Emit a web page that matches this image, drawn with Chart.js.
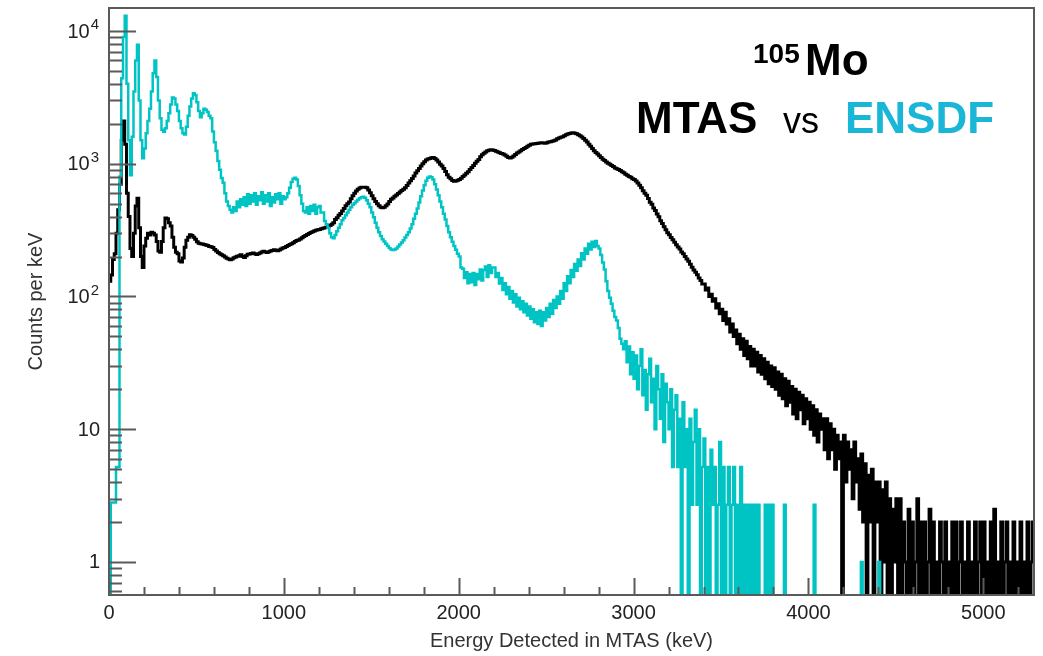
<!DOCTYPE html>
<html lang="en">
<head>
<meta charset="UTF-8">
<title>105Mo MTAS vs ENSDF</title>
<script src="https://cdn.jsdelivr.net/npm/chart.js"></script>
<style>
  body { margin: 0; background: #fff; }
  #wrap { width: 1043px; height: 656px; }
</style>
</head>
<body>
<div id="wrap"><canvas id="spectrum" width="1043" height="656"></canvas></div>
<script>
// histogram bins of 10 keV, first bin starts at 0 keV; one row = 200 keV
const binWidth = 10;

const mtasCounts = [
  130, 145, 190, 210, 300, 450, 700, 1500, 2100, 1400, 600, 400, 230, 200, 300, 480, 550, 330, 200, 165,           // 0
  240, 275, 300, 290, 305, 300, 290, 260, 220, 215, 260, 330, 390, 385, 360, 340, 280, 235, 215, 210,              // 200
  185, 182, 195, 235, 265, 280, 292, 288, 280, 270, 258, 252, 250, 248, 246, 244, 242, 238, 237, 234,              // 400
  226, 220, 214, 210, 206, 203, 198, 194, 192, 189, 192, 196, 198, 201, 203, 206, 200, 197, 203, 208,              // 600
  209, 211, 213, 210, 207, 210, 213, 216, 219, 216, 214, 217, 220, 222, 225, 223, 221, 224, 228, 232,              // 800
  234, 238, 242, 246, 250, 254, 259, 264, 266, 271, 277, 283, 288, 293, 298, 303, 308, 312, 315, 318,              // 1000
  320, 324, 326, 330, 333, 337, 342, 350, 360, 380, 392, 410, 422, 440, 460, 482, 500, 515, 545, 575,              // 1200
  600, 622, 643, 657, 664, 666, 666, 660, 635, 605, 575, 545, 520, 500, 482, 470, 466, 470, 482, 498,              // 1400
  520, 540, 553, 568, 582, 598, 612, 628, 642, 658, 685, 715, 745, 775, 810, 850, 885, 920, 960, 1000,             // 1600
  1035, 1065, 1085, 1095, 1108, 1112, 1095, 1065, 1030, 990, 960, 920, 875, 825, 790, 770, 748, 738, 740, 750,     // 1800
  762, 778, 800, 822, 848, 872, 905, 935, 970, 1010, 1045, 1075, 1130, 1170, 1200, 1225, 1250, 1265, 1275, 1268,   // 2000
  1258, 1242, 1228, 1212, 1196, 1182, 1162, 1138, 1115, 1105, 1118, 1142, 1175, 1205, 1228, 1252, 1278, 1302, 1328, 1352, // 2200
  1378, 1400, 1408, 1412, 1418, 1425, 1435, 1442, 1436, 1428, 1442, 1458, 1465, 1478, 1492, 1510, 1540, 1562, 1580, 1600, // 2400
  1625, 1652, 1672, 1690, 1705, 1715, 1700, 1682, 1655, 1625, 1590, 1550, 1505, 1455, 1405, 1355, 1305, 1255, 1215, 1185, // 2600
  1150, 1112, 1082, 1058, 1032, 1008, 990, 970, 952, 928, 915, 905, 890, 872, 855, 835, 820, 800, 790, 770,        // 2800
  760, 742, 715, 688, 658, 625, 600, 580, 548, 512, 495, 465, 445, 418, 398, 372, 355, 335, 318, 302,              // 3000
  292, 278, 268, 256, 245, 236, 228, 216, 210, 200, 192, 184, 175, 166, 158, 152, 146, 138, 132, 124,              // 3200
  124, 112, 116, 100, 104, 92, 96, 82, 88, 74, 80, 66, 76, 62, 68, 54, 62, 50, 56, 44,                             // 3400
  52, 40, 48, 36, 46, 34, 42, 30, 40, 30, 38, 27, 36, 26, 34, 24, 32, 22, 30, 21,                                  // 3600
  29, 20, 27, 18, 26, 17, 24, 15, 23, 16, 21, 13, 20, 12, 19, 14, 18, 11, 17, 12,                                  // 3800
  16, 10, 15, 9, 14, 8, 13, 10, 12, 7, 12, 6, 11, 7, 10, 5, 9, 6, 8, 0,                                            // 4000
  9, 4, 8, 5, 7, 3, 8, 4, 6, 2.5, 6.5, 2, 5.5, 0, 4.5, 2, 5, 0, 4, 2,                                              // 4200
  4, 0, 3.5, 1, 4, 0, 3, 0, 2.5, 1, 3, 0, 3, 0, 2, 1, 0, 2.5, 0, 2,                                                // 4400
  0, 1, 3, 0, 2, 0, 2, 0, 1, 2.5, 0, 2, 0, 1, 0, 2, 1, 0, 2, 0,                                                    // 4600
  1, 0, 2, 0, 2, 0, 1, 2, 0, 1, 0, 2, 0, 1, 0, 2, 0, 1, 2, 0,                                                      // 4800
  2, 0, 1, 0, 2, 0, 2.5, 0, 1, 0, 2, 0, 1, 2, 0, 1, 0, 2, 0, 1,                                                    // 5000
  0, 2, 0, 1, 0, 2, 0, 1, 2, 0                                                                                     // 5200
];

// ENSDF-based simulated spectrum, counts per keV
const ensdfCounts = [
  0, 2.8, 2.8, 2.8, 5.2, 5.2, 800, 4400, 9000, 13000, 4000, 1500, 820, 1600, 3500, 6000, 7870, 3000, 1500, 1100,   // 0
  1300, 1700, 2100, 2600, 3500, 4800, 6000, 4500, 3000, 2200, 1800, 1740, 1850, 2100, 2400, 2800, 3150, 3100, 2800, 2500, // 200
  2100, 1850, 1700, 1660, 1900, 2300, 2700, 3100, 3400, 3300, 2900, 2500, 2240, 2400, 2600, 2550, 2450, 2300, 2200, 1750, // 400
  1450, 1250, 1050, 900, 780, 720, 600, 520, 480, 450, 430, 470, 440, 520, 470, 540, 490, 560, 480, 590,          // 600
  500, 580, 520, 600, 490, 570, 530, 610, 500, 580, 520, 600, 480, 560, 510, 590, 540, 600, 500, 570,              // 800
  540, 560, 600, 660, 730, 770, 785, 760, 680, 580, 500, 440, 430, 470, 420, 480, 440, 490, 420, 470,              // 1000
  480, 430, 430, 370, 350, 330, 300, 280, 275, 290, 310, 330, 350, 375, 390, 410, 430, 450, 470, 490,              // 1200
  505, 520, 535, 550, 560, 565, 555, 530, 500, 470, 430, 395, 360, 330, 305, 285, 270, 260, 250, 240,              // 1400
  232, 226, 224, 226, 230, 238, 246, 255, 265, 278, 290, 305, 325, 350, 385, 420, 460, 510, 570, 630,              // 1600
  690, 745, 785, 800, 790, 760, 700, 640, 580, 520, 470, 420, 380, 340, 305, 280, 258, 240, 225, 210,              // 1800
  200, 165, 162, 138, 152, 126, 148, 128, 150, 122, 148, 135, 160, 132, 158, 168, 140, 172, 150, 165,              // 2000
  165, 140, 150, 125, 138, 112, 126, 104, 118, 96, 110, 90, 104, 84, 98, 80, 92, 76, 88, 72,                       // 2200
  84, 68, 80, 64, 76, 62, 78, 60, 76, 66, 82, 70, 88, 74, 94, 82, 100, 88, 110, 96,                                // 2400
  126, 110, 142, 126, 158, 140, 176, 156, 190, 170, 212, 190, 230, 210, 250, 226, 258, 236, 262, 240,              // 2600
  230, 205, 180, 160, 130, 110, 98, 88, 78, 70, 66, 58, 48, 44, 40, 46, 32, 42, 26, 38,                            // 2800
  24, 36, 20, 30, 40, 18, 28, 14, 26, 34, 16, 24, 10, 30, 20, 12, 26, 8, 22, 16,                                   // 3000
  10, 20, 5.2, 14, 18, 5.2, 12, 0, 16, 5.2, 10, 0, 12, 2.7, 8, 14, 2.7, 10, 0, 5.2,                                // 3200
  8.5, 0, 5.2, 0, 7, 2.7, 5.2, 0, 2.7, 8, 0, 5.2, 0, 2.7, 5.2, 0, 2.7, 5.2, 0, 2.7,                                // 3400
  0, 5.2, 0, 2.7, 0, 2.7, 0, 2.7, 0, 2.7, 0, 2.7, 0, 0, 0, 2.7, 0, 2.7, 0, 2.7,                                    // 3600
  0, 0, 0, 0, 0, 0, 2.7, 0, 0, 0, 0, 0, 0, 0, 0, 0, 0, 0, 0, 0,                                                    // 3800
  0, 0, 0, 2.7, 0, 0, 0, 0, 0, 0, 0, 0, 0, 0, 0, 0, 0, 0, 0, 0,                                                    // 4000
  0, 0, 0, 0, 0, 0, 0, 0, 0, 0, 1, 0, 0, 0, 0, 0, 0, 0, 0, 0,                                                      // 4200
  1, 0, 0, 0, 0, 0, 0, 0, 0, 0, 0, 0, 0, 0, 0, 0, 0, 0, 0, 0,                                                      // 4400
  0, 0, 0, 0, 0, 0, 0, 0, 0, 0, 0, 0, 0, 0, 0, 0, 0, 0, 0, 0,                                                      // 4600
  0, 0, 0, 0, 0, 0, 0, 0, 0, 0, 0, 0, 0, 0, 0, 0, 0, 0, 0, 0,                                                      // 4800
  0, 0, 0, 0, 0, 0, 0, 0, 0, 0, 0, 0, 0, 0, 0, 0, 0, 0, 0, 0,                                                      // 5000
  0, 0, 0, 0, 0, 0, 0, 0, 0, 0                                                                                     // 5200
];

const xTickValues = [0, 1000, 2000, 3000, 4000, 5000];
const yTickValues = [1, 10, 100, 1000, 10000];
const yTickBase = ['1', '10', '10', '10', '10'];
const yTickExp = ['', '', '2', '3', '4'];

const xRange = [0, 5290];
const yRange = [0.564, 14900];
const emptyBin = 0.3; // zero-count bins are drawn below the visible range

const FONT = '"Liberation Sans", Arial, Helvetica, sans-serif';

function toSteps(counts) {
  const pts = counts.map((c, i) => ({ x: i * binWidth, y: c > 0 ? c : emptyBin }));
  pts.push({ x: counts.length * binWidth, y: pts[pts.length - 1].y });
  return pts;
}

// frame, inward ticks, labels and the title box, ROOT style
const decorations = {
  id: 'decorations',
  afterDraw(chart) {
    const ctx = chart.ctx;
    const a = chart.chartArea;
    const xs = chart.scales.x;
    const ys = chart.scales.y;
    ctx.save();

    ctx.strokeStyle = '#5a5a5a';
    ctx.lineWidth = 2;
    ctx.strokeRect(a.left, a.top, a.right - a.left, a.bottom - a.top);

    // x ticks, minor every 200 keV
    ctx.beginPath();
    for (let e = xRange[0]; e <= xRange[1]; e += 200) {
      const px = Math.round(xs.getPixelForValue(e)) + 0.5;
      const len = e % 1000 === 0 ? 17 : 8;
      ctx.moveTo(px, a.bottom);
      ctx.lineTo(px, a.bottom - len);
    }
    // y ticks, 1..9 per decade
    for (let d = 0.1; d <= 10000; d *= 10) {
      for (let m = 1; m <= 9; m++) {
        const v = d * m;
        if (v < yRange[0] || v > yRange[1]) continue;
        const py = Math.round(ys.getPixelForValue(v)) + 0.5;
        const len = m === 1 ? 27 : 13;
        ctx.moveTo(a.left, py);
        ctx.lineTo(a.left + len, py);
      }
    }
    ctx.stroke();

    // tick labels
    ctx.fillStyle = '#222';
    ctx.font = '20px ' + FONT;
    ctx.textAlign = 'center';
    ctx.textBaseline = 'middle';
    xTickValues.forEach(v => {
      ctx.fillText(String(v), xs.getPixelForValue(v), 613);
    });

    yTickValues.forEach((v, i) => {
      const py = ys.getPixelForValue(v) + 1;
      const right = 99;
      ctx.textBaseline = 'middle';
      ctx.textAlign = 'right';
      if (yTickExp[i]) {
        ctx.font = '15px ' + FONT;
        const ew = ctx.measureText(yTickExp[i]).width;
        ctx.fillText(yTickExp[i], right, py - 7);
        ctx.font = '20px ' + FONT;
        ctx.fillText(yTickBase[i], right - ew - 1, py);
      } else {
        ctx.font = '20px ' + FONT;
        ctx.fillText(yTickBase[i], right + 1, py);
      }
    });

    // axis titles
    ctx.font = '20px ' + FONT;
    ctx.textAlign = 'center';
    ctx.fillStyle = '#333';
    ctx.fillText('Energy Detected in MTAS (keV)', (a.left + a.right) / 2, 641);
    ctx.save();
    ctx.translate(36, (a.top + a.bottom) / 2);
    ctx.rotate(-Math.PI / 2);
    ctx.fillText('Counts per keV', 0, 0);
    ctx.restore();

    // title box
    ctx.textAlign = 'left';
    ctx.textBaseline = 'alphabetic';
    ctx.fillStyle = '#000';
    ctx.font = 'bold 28px ' + FONT;
    ctx.fillText('105', 753, 63);
    ctx.font = 'bold 44px ' + FONT;
    ctx.fillText('Mo', 805, 75);

    ctx.fillText('MTAS', 636, 133);
    ctx.font = '36px ' + FONT;
    ctx.fillText('vs', 783, 133);
    ctx.font = 'bold 44px ' + FONT;
    ctx.fillStyle = '#1ab6d8';
    ctx.fillText('ENSDF', 845, 133);

    ctx.restore();
  }
};

new Chart(document.getElementById('spectrum').getContext('2d'), {
  type: 'line',
  data: {
    datasets: [
      {
        label: 'ENSDF',
        data: toSteps(ensdfCounts),
        borderColor: '#00c4c4',
        borderWidth: 2.5,
        stepped: 'before',
        pointRadius: 0,
        fill: false
      },
      {
        label: 'MTAS',
        data: toSteps(mtasCounts),
        borderColor: '#000000',
        borderWidth: 3,
        stepped: 'before',
        pointRadius: 0,
        fill: false
      }
    ]
  },
  options: {
    responsive: false,
    animation: false,
    events: [],
    layout: { padding: { left: 109, right: 9, top: 8, bottom: 61 } },
    plugins: {
      legend: { display: false },
      tooltip: { enabled: false }
    },
    scales: {
      x: { type: 'linear', min: xRange[0], max: xRange[1], display: false },
      y: { type: 'logarithmic', min: yRange[0], max: yRange[1], display: false }
    }
  },
  plugins: [decorations]
});
</script>
</body>
</html>
